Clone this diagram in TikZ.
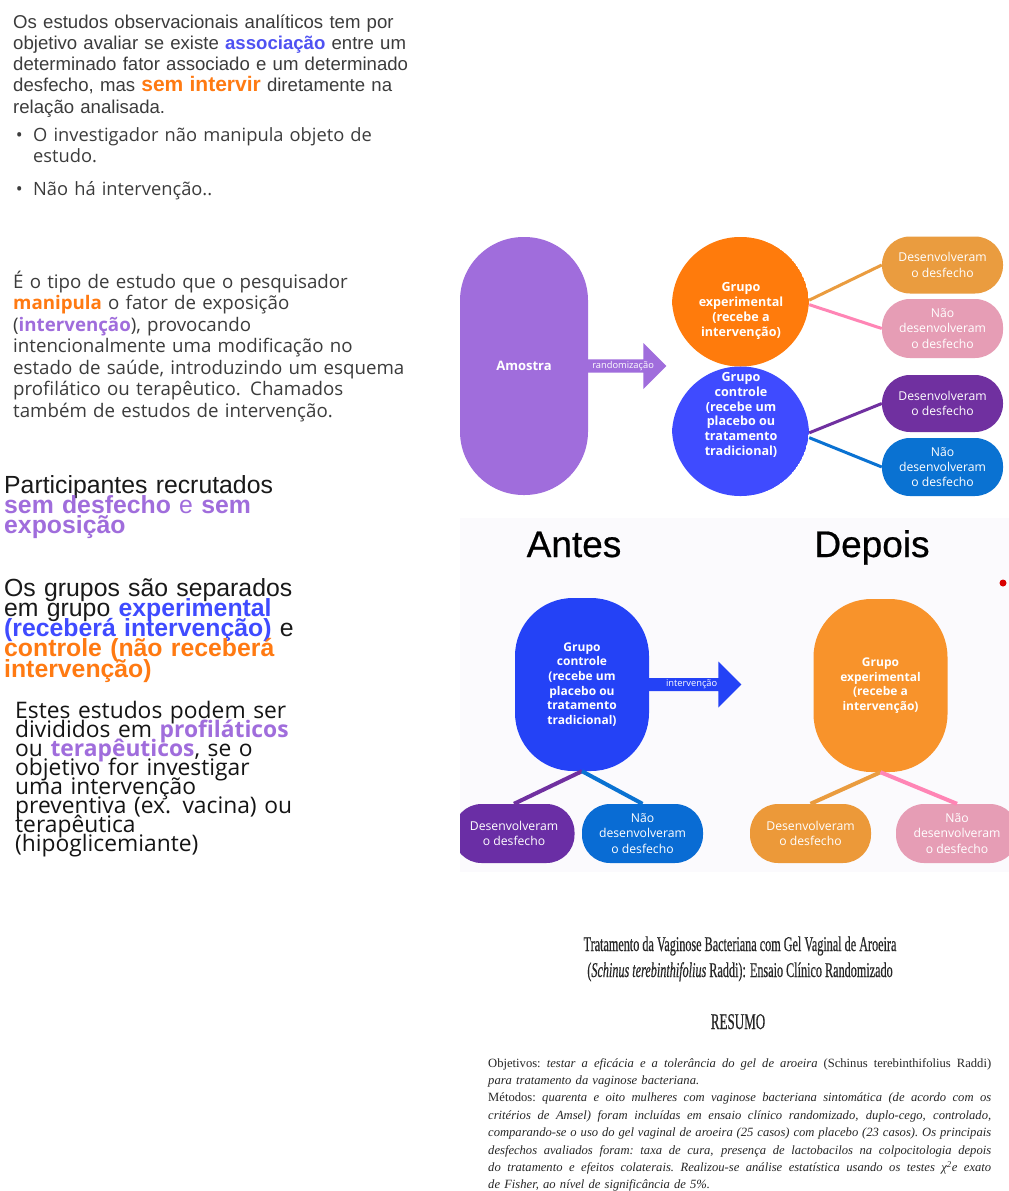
\documentclass[tikz,border=0pt]{standalone}
\usepackage{fontspec}
\usetikzlibrary{positioning,shapes.arrows}
\newfontfamily\arialf{Liberation Sans}
\newfontfamily\headf[FakeBold=0.6]{Liberation Sans}
\newfontfamily\opensans{Open Sans}
\newfontfamily\condserif[FakeStretch=0.58,FakeBold=0.4]{Liberation Serif}
\newfontfamily\bodyserif{Liberation Serif}
\definecolor{txtgray}{HTML}{3C3C3C}
\definecolor{assocblue}{HTML}{4F52F2}
\definecolor{hotorange}{HTML}{FF7A12}
\definecolor{lilac}{HTML}{A06DDC}
\definecolor{grpblue}{HTML}{3F4BFF}
\definecolor{grporange}{HTML}{FF7B0C}
\definecolor{outorange}{HTML}{EA9C3F}
\definecolor{outpink}{HTML}{E69DB5}
\definecolor{linkpink}{HTML}{FF85B5}
\definecolor{outpurple}{HTML}{7030A0}
\definecolor{outblue}{HTML}{0A72D2}
\definecolor{blobblue}{HTML}{2442F6}
\definecolor{bloborange}{HTML}{F8932B}
\definecolor{panelbg}{HTML}{FBFAFD}
\newcommand{\bodyspace}{\spaceskip=0.25em plus 0.6em minus 0.1em\relax\xspaceskip=\spaceskip}
\newcommand{\jl}[1]{\leavevmode\hbox to 503pt{\bodyspace #1}}
\newcommand{\tight}{\lineskiplimit=-50pt\normallineskiplimit=-50pt}
\normallineskiplimit=-50pt
\lineskiplimit=-50pt

\begin{document}
\begin{tikzpicture}[
  x=1pt, y=-1pt,
  every node/.style={inner sep=0pt},
  txt/.style={anchor=base west, align=left, text width=#1},
  pill/.style={
    rectangle,
    rounded corners=28pt,
    minimum width=121pt,
    minimum height=57pt,
    text=white,
    align=center,
    font=\opensans\fontsize{12.2}{15.4}\selectfont
  },
  grptxt/.style={text=white, align=center, font=\opensans\bfseries\fontsize{12.6}{14.8}\selectfont},
  blob/.style={
    rectangle,
    rounded corners=58pt,
    minimum width=134pt,
    minimum height=173pt,
    text=white,
    align=center,
    font=\opensans\bfseries\fontsize{12}{14.7}\selectfont
  },
  fatarrow/.style={single arrow, single arrow head extend=12pt, text=white, inner xsep=1pt},
  link/.style={line width=3pt},
  thicklink/.style={line width=4pt}
]

\useasboundingbox (0,0) rectangle (1009,1191);
\fill[white] (0,0) rectangle (1009,1191);

% left column
\node[txt=420pt, font=\arialf\fontsize{18.6}{21.3}\selectfont, text=txtgray] (obs) at (13,28)
  {Os estudos observacionais analíticos tem por\\
   objetivo avaliar se existe \textcolor{assocblue}{\textbf{associação}} entre um\\
   determinado fator associado e um determinado\\
   desfecho, mas \textcolor{hotorange}{\textbf{\fontsize{21}{21.3}\selectfont sem intervir}} diretamente na\\
   relação analisada.};
\node[txt=400pt, font=\opensans\fontsize{18.3}{21.3}\selectfont, text=txtgray] (inv) at (33,141)
  {O investigador não manipula objeto de\\ estudo.};
\node[anchor=base east, font=\opensans\fontsize{18.3}{21.3}\selectfont, text=txtgray] (dot1) at ([xshift=-10pt]inv.base west) {•};
\node[txt=400pt, font=\opensans\fontsize{18.3}{21.3}\selectfont, text=txtgray] (noint) at (33,195)
  {Não há intervenção..};
\node[anchor=base east, font=\opensans\fontsize{18.3}{21.3}\selectfont, text=txtgray] (dot2) at ([xshift=-10pt]noint.base west) {•};

\node[txt=420pt, font=\opensans\fontsize{18.7}{21.5}\selectfont, text=txtgray] (ensaio) at (13,288)
  {É o tipo de estudo que o pesquisador\\
   \textcolor{hotorange}{\textbf{manipula}} o fator de exposição\\
   (\textcolor{lilac}{\textbf{intervenção}}), provocando\\
   intencionalmente uma modificação no\\
   estado de saúde, introduzindo um esquema\\
   profilático ou terapêutico. Chamados\\
   também de estudos de intervenção.};

\node[txt=330pt, font=\arialf\fontsize{24.8}{20.2}\selectfont\tight, text=black!90] (recrut) at (4,493)
  {Participantes recrutados\\
   \textcolor{lilac}{\textbf{sem desfecho} e \textbf{sem}}\\
   \textcolor{lilac}{\textbf{exposição}}};

\node[txt=330pt, font=\arialf\fontsize{24.8}{20.3}\selectfont\tight, text=black!90] (grupos) at (4,596)
  {Os grupos são separados\\
   em grupo \textcolor{grpblue}{\textbf{experimental}}\\
   \textcolor{grpblue}{\textbf{(receberá intervenção)}} e\\
   \textcolor{hotorange}{\textbf{controle (não receberá}}\\
   \textcolor{hotorange}{\textbf{intervenção)}}};

\node[txt=330pt, font=\opensans\fontsize{22.8}{19.1}\selectfont\tight, text=black!92] (tipos) at (15,718)
  {Estes estudos podem ser\\
   divididos em \textcolor{lilac}{\textbf{profiláticos}}\\
   ou \textcolor{lilac}{\textbf{terapêuticos}}, se o\\
   objetivo for investigar\\
   uma intervenção\\
   preventiva (ex. vacina) ou\\
   terapêutica\\
   (hipoglicemiante)};

% randomization scheme
\node[rectangle, rounded corners=63.5pt, minimum width=128pt, minimum height=258pt, fill=lilac,
  text=white, font=\opensans\bfseries\fontsize{13}{15}\selectfont] (amostra) at (524,366) {Amostra};
\node[fatarrow, fill=lilac, minimum width=46pt, minimum height=80pt, right=-2pt of amostra,
  font=\opensans\fontsize{9.3}{10}\selectfont] (rand) {randomização};
\node[rectangle, rounded corners=68pt, minimum width=137pt, minimum height=259pt,
  path picture={
    \fill[grporange] (path picture bounding box.north west) rectangle (path picture bounding box.east);
    \fill[grpblue] (path picture bounding box.west) rectangle (path picture bounding box.south east);
  }] (grp) at (740.5,366.5) {};
\node[grptxt] (exptxt) at (741,311) {Grupo\\experimental\\(recebe a\\intervenção)};
\node[grptxt] (ctltxt) at (741,415) {Grupo\\controle\\(recebe um\\placebo ou\\tratamento\\tradicional)};

\node[pill, fill=outorange] (des1) at (942.5,265) {Desenvolveram\\o desfecho};
\node[pill, fill=outpink, minimum height=59pt] (nao1) at (942.5,328.5) {Não\\desenvolveram\\o desfecho};
\node[pill, fill=outpurple] (des2) at (942.5,403.5) {Desenvolveram\\o desfecho};
\node[pill, fill=outblue, minimum height=58pt] (nao2) at (942.5,467) {Não\\desenvolveram\\o desfecho};

\draw[link, outorange] (grp.44) -- (des1.west);
\draw[link, linkpink] (grp.42) -- (nao1.west);
\draw[link, outpurple] (grp.-44) -- (des2.west);
\draw[link, outblue] (grp.-46) -- (nao2.west);

% before / after panel
\begin{scope}
\clip (460,518) rectangle (1009,872);
\fill[panelbg] (460,518) rectangle (1009,872);
\node[anchor=base, font=\headf\fontsize{37}{40}\selectfont] (antes) at (574,557) {Antes};
\node[anchor=base, font=\headf\fontsize{37}{40}\selectfont] (depois) at (872,557) {Depois};

\node[blob, fill=blobblue] (blobctl) at (582,684.5)
  {Grupo\\controle\\(recebe um\\placebo ou\\tratamento\\tradicional)};
\node[fatarrow, fill=blobblue, minimum width=46pt, minimum height=93pt, right=-1pt of blobctl,
  font=\opensans\fontsize{9.3}{10}\selectfont] (interv) {intervenção};
\node[blob, fill=bloborange] (blobexp) at (880.5,685.5)
  {Grupo\\experimental\\(recebe a\\intervenção)};

\node[pill, fill=outpurple!95!blue, minimum height=59pt] (bo1) at (514,833.5) {Desenvolveram\\o desfecho};
\node[pill, fill=outblue!95!blue, minimum height=59pt] (bo2) at (642.5,833.5) {Não\\desenvolveram\\o desfecho};
\node[pill, fill=outorange!90!orange, minimum height=59pt] (bo3) at (810.5,833.5) {Desenvolveram\\o desfecho};
\node[pill, fill=outpink, minimum width=122pt, minimum height=59pt] (bo4) at (957,833.5) {Não\\desenvolveram\\o desfecho};

\draw[thicklink, outpurple] (blobctl.south) -- (bo1.north);
\draw[thicklink, outblue] (blobctl.south) -- (bo2.north);
\draw[thicklink, outorange] (blobexp.south) -- (bo3.north);
\draw[thicklink, linkpink] (blobexp.south) -- (bo4.north);
\fill[red!85!black] (1003,583) circle (3.5);
\end{scope}

% abstract
\node[anchor=base, font=\condserif\fontsize{21}{22}\selectfont, text=black!85] (titulo) at (740,951)
  {Tratamento da Vaginose Bacteriana com Gel Vaginal de Aroeira};
\node[anchor=base, font=\condserif\fontsize{21}{22}\selectfont, text=black!85] (titulo2) at (740,977)
  {(\textit{Schinus terebinthifolius} Raddi): Ensaio Clínico Randomizado};
\node[anchor=base, font=\condserif\fontsize{22.5}{24}\selectfont, text=black!85] (resumo) at (738,1029) {RESUMO};
\node[txt=503pt, font=\bodyserif\fontsize{12.6}{17.4}\selectfont, text=black!85] (corpo) at (488,1067)
  {\jl{Objetivos: \textit{testar a eficácia e a tolerância do gel de aroeira} (Schinus terebinthifolius Raddi)}\\
   \textit{para tratamento da vaginose bacteriana.}\\
   \jl{Métodos: \textit{quarenta e oito mulheres com vaginose bacteriana sintomática (de acordo com os}}\\
   \jl{\textit{critérios de Amsel) foram incluídas em ensaio clínico randomizado, duplo-cego, controlado,}}\\
   \jl{\textit{comparando-se o uso do gel vaginal de aroeira (25 casos) com placebo (23 casos). Os principais}}\\
   \jl{\textit{desfechos avaliados foram: taxa de cura, presença de lactobacilos na colpocitologia depois}}\\
   \jl{\textit{do tratamento e efeitos colaterais. Realizou-se análise estatística usando os testes χ\textsuperscript{2}e exato}}\\
   \textit{de Fisher, ao nível de significância de 5\%.}};

\end{tikzpicture}
\end{document}
